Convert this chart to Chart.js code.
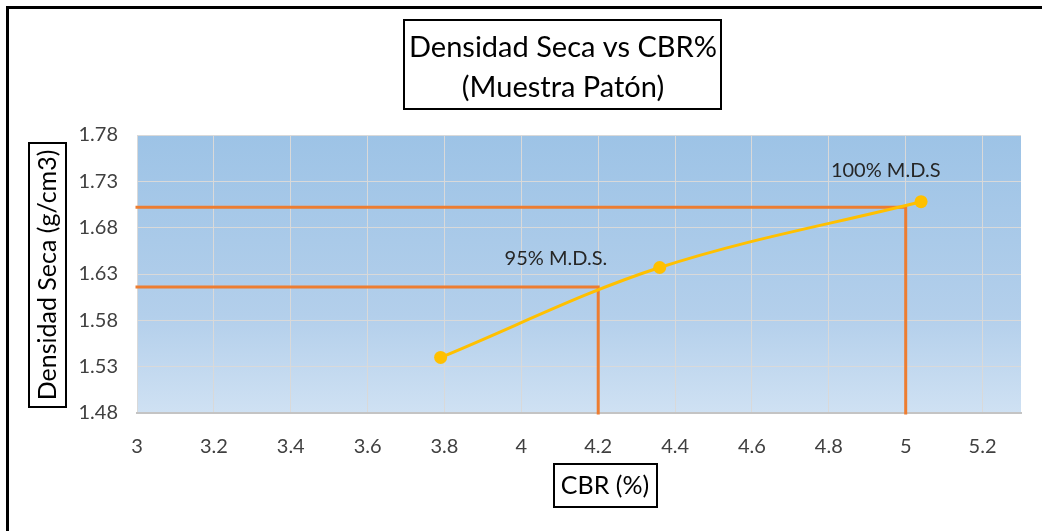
<!DOCTYPE html>
<html>
<head>
<meta charset="utf-8">
<script src="https://cdn.jsdelivr.net/npm/chart.js@4.4.0/dist/chart.umd.min.js"></script>
<style>
    body { margin: 0; background: #ffffff; }
    #marco { position: absolute; left: 6px; top: 6px; width: 1100px; height: 600px; border: 3px solid #000; }
    #contenedor { position: absolute; left: 0; top: 0; width: 1042px; height: 531px; }
</style>
</head>
<body>
<div id="marco"></div>
<div id="contenedor"><canvas id="grafico" width="1042" height="531"></canvas></div>
<script>
// Datos
const cbr = [3.79, 4.36, 5.04];
const densidad = [1.540, 1.637, 1.708];

// Lineas de referencia (100% y 95% M.D.S)
const lineaCbr = [5.0, 4.2];
const lineaMds = [1.702, 1.616];

const etiquetas = ['100% M.D.S', '95% M.D.S.'];
const etiquetaX = [4.948, 4.09];
const etiquetaY = [1.742, 1.647];

const xTicks = [3, 3.2, 3.4, 3.6, 3.8, 4, 4.2, 4.4, 4.6, 4.8, 5, 5.2];
const yTicks = [1.48, 1.53, 1.58, 1.63, 1.68, 1.73, 1.78];

const titulo = ['Densidad Seca vs CBR%', '(Muestra Patón)'];
const tituloY = 'Densidad Seca (g/cm3)';
const tituloX = 'CBR (%)';

const FUENTE = 'Lato, "Open Sans", sans-serif';
const COLORES = {
    serie: '#FFC000',
    referencia: '#ED7D31',
    grid: '#d9d9d9',
    texto: '#404040'
};

function lineaReferencia(i) {
    return [
        { x: xTicks[0], y: lineaMds[i] },
        { x: lineaCbr[i], y: lineaMds[i] },
        { x: lineaCbr[i], y: yTicks[0] }
    ];
}

// fondo degradado del area de trazado
const fondoPlugin = {
    id: 'fondo',
    beforeDraw(chart) {
        const { ctx, chartArea: a } = chart;
        const g = ctx.createLinearGradient(0, a.top, 0, a.bottom);
        g.addColorStop(0, '#9dc3e6');
        g.addColorStop(0.65, '#b3cfeb');
        g.addColorStop(1, '#cfe1f3');
        ctx.save();
        ctx.fillStyle = g;
        ctx.fillRect(a.left, a.top, a.right - a.left, a.bottom - a.top);
        ctx.restore();
    }
};

// etiquetas de texto dentro del grafico
const etiquetasPlugin = {
    id: 'etiquetas',
    afterDatasetsDraw(chart) {
        const { ctx, scales } = chart;
        ctx.save();
        ctx.font = '20px ' + FUENTE;
        ctx.fillStyle = '#262626';
        ctx.textAlign = 'center';
        ctx.textBaseline = 'middle';
        etiquetas.forEach((t, i) => {
            ctx.fillText(t, scales.x.getPixelForValue(etiquetaX[i]), scales.y.getPixelForValue(etiquetaY[i]));
        });
        ctx.restore();
    }
};

// cajas de titulo
function caja(ctx, x, y, w, h) {
    ctx.lineWidth = 2;
    ctx.strokeStyle = '#000';
    ctx.strokeRect(x, y, w, h);
}

const titulosPlugin = {
    id: 'titulos',
    afterDraw(chart) {
        const ctx = chart.ctx;
        ctx.save();
        ctx.fillStyle = '#000';
        ctx.textAlign = 'center';
        ctx.textBaseline = 'middle';

        caja(ctx, 404, 20, 317, 89);
        ctx.font = '29px ' + FUENTE;
        ctx.fillText(titulo[0], 563, 48);
        ctx.fillText(titulo[1], 563, 88);

        caja(ctx, 554, 464, 103, 43);
        ctx.font = '25px ' + FUENTE;
        ctx.fillText(tituloX, 605, 486);

        caja(ctx, 29, 143, 37, 264);
        ctx.translate(48, 275);
        ctx.rotate(-Math.PI / 2);
        ctx.fillText(tituloY, 0, 0);
        ctx.restore();
    }
};

new Chart(document.getElementById('grafico').getContext('2d'), {
    type: 'scatter',
    data: {
        datasets: [
            {
                data: cbr.map((x, i) => ({ x: x, y: densidad[i] })),
                showLine: true,
                tension: 0.35,
                borderColor: COLORES.serie,
                backgroundColor: COLORES.serie,
                borderWidth: 3,
                pointRadius: 6.5,
                pointBorderWidth: 0
            },
            {
                data: lineaReferencia(0),
                showLine: true,
                borderColor: COLORES.referencia,
                borderWidth: 3,
                borderCapStyle: 'square',
                pointRadius: 0,
                clip: false
            },
            {
                data: lineaReferencia(1),
                showLine: true,
                borderColor: COLORES.referencia,
                borderWidth: 3,
                borderCapStyle: 'square',
                pointRadius: 0,
                clip: false
            }
        ]
    },
    options: {
        responsive: false,
        animation: false,
        layout: { padding: { top: 135, right: 21, left: 0, bottom: 0 } },
        plugins: {
            legend: { display: false },
            tooltip: { enabled: false }
        },
        scales: {
            x: {
                type: 'linear',
                min: 3,
                max: 5.3,
                afterBuildTicks: (s) => { s.ticks = xTicks.map(v => ({ value: v })); },
                afterFit: (s) => { s.height = 118; },
                ticks: {
                    padding: 22,
                    color: COLORES.texto,
                    font: { family: FUENTE, size: 20 },
                    maxRotation: 0,
                    callback: (v) => String(v)
                },
                grid: { color: COLORES.grid, drawTicks: false },
                border: { color: '#c4c4c4', width: 2 }
            },
            y: {
                min: 1.48,
                max: 1.78,
                afterBuildTicks: (s) => { s.ticks = yTicks.map(v => ({ value: v })); },
                afterFit: (s) => { s.width = 137; },
                ticks: {
                    padding: 19,
                    color: COLORES.texto,
                    font: { family: FUENTE, size: 20 },
                    callback: (v) => v.toFixed(2)
                },
                grid: { color: COLORES.grid, drawTicks: false },
                border: { display: false }
            }
        }
    },
    plugins: [fondoPlugin, etiquetasPlugin, titulosPlugin]
});
</script>
</body>
</html>
